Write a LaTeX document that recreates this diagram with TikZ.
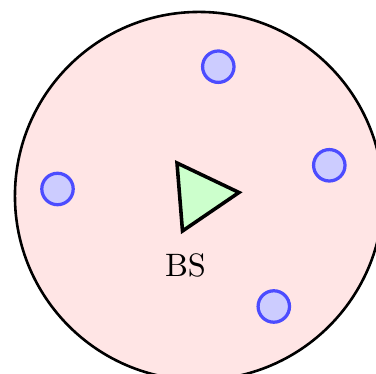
\documentclass[tikz,border=0pt]{standalone}
\begin{document}
\begin{tikzpicture}[x=0.3086pt,y=-0.3086pt,
  user/.style={circle,draw=blue!70,fill=blue!20,line width=1pt,minimum size=9.7pt,inner sep=0pt},
  cell/.style={draw=black,fill=red!10,thick},
  bs/.style={draw=black,fill=green!20,line width=1.1pt,line join=miter}]
\useasboundingbox (0,0) rectangle (376,374);
\begin{scope}
\clip (0,0) rectangle (376,374);
\draw[cell] (199,196) circle[radius=56.8pt];
\end{scope}
\node[user] (u1) at (218.3,66.7) {};
\node[user] (u2) at (329.3,165.3) {};
\node[user] (u3) at (57.5,189) {};
\node[user] (u4) at (273.8,306.5) {};
\coordinate (t1) at (177,163);
\coordinate (t2) at (239,192.5);
\coordinate (t3) at (182.5,231);
\draw[bs] (t1) -- (t2) -- (t3) -- cycle;
\node[inner sep=0pt,anchor=base] (lbl) at (185.5,277) {BS};
\end{tikzpicture}
\end{document}
